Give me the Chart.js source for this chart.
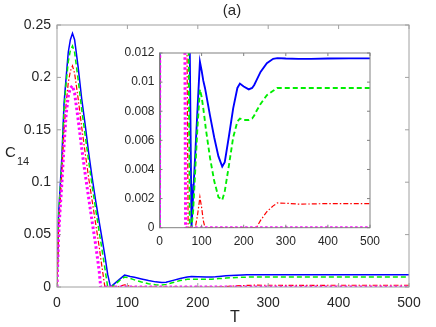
<!DOCTYPE html>
<html>
<head>
<meta charset="utf-8">
<script src="https://cdn.jsdelivr.net/npm/chart.js@4.4.1/dist/chart.umd.min.js"></script>
<style>
  body { margin: 0; background: #fff; }
  #wrap { position: relative; width: 436px; height: 327px; }
  #main { position: absolute; left: 0; top: 0; }
  #inset { position: absolute; left: 110px; top: 45px; }
</style>
</head>
<body>
<div id="wrap">
  <canvas id="main" width="436" height="327"></canvas>
  <canvas id="inset" width="280" height="210"></canvas>
</div>
<script>
// time axis (T) samples
const T = [0, 2, 4, 7, 10, 13, 16, 19, 22, 25, 30, 35, 40, 45, 50, 55, 60, 62, 65, 68, 70, 72, 75, 76,
  80, 85, 90, 96, 100, 104, 108, 110, 120, 130, 140, 149, 155, 165, 175, 185, 191, 200, 212, 220, 225,
  230, 240, 255, 270, 280, 300, 330, 360, 400, 450, 500];

// C14 for each curve
const blue = [0, 0.066, 0.09, 0.125, 0.175, 0.2, 0.224, 0.236, 0.242, 0.236, 0.21, 0.18, 0.155, 0.128, 0.104, 0.082, 0.062, 0.054, 0.042, 0.03, 0.021, 0.012, 0.003, 0,
  0.0023, 0.0051, 0.008, 0.0114, 0.0108, 0.0101, 0.0096, 0.0093, 0.0077, 0.0062, 0.0049, 0.0042, 0.0045, 0.0063, 0.0082, 0.0096, 0.0099, 0.0097, 0.0095, 0.0096, 0.0098,
  0.0101, 0.0107, 0.0113, 0.0116, 0.01165, 0.01162, 0.0116, 0.0116, 0.01162, 0.01163, 0.01163];
const green = [0, 0.06, 0.088, 0.12, 0.17, 0.195, 0.215, 0.226, 0.23, 0.224, 0.198, 0.17, 0.145, 0.12, 0.096, 0.074, 0.052, 0.044, 0.031, 0.018, 0.009, 0, 0, 0,
  0.0012, 0.004, 0.0068, 0.0095, 0.009, 0.0082, 0.0073, 0.0068, 0.0048, 0.0032, 0.0021, 0.0019, 0.0025, 0.0043, 0.0062, 0.0073, 0.0075, 0.0074, 0.0074, 0.0075, 0.0077,
  0.008, 0.0085, 0.0091, 0.0094, 0.0096, 0.0096, 0.0096, 0.0096, 0.0096, 0.0096, 0.0096];
const red = [0, 0.05, 0.075, 0.11, 0.15, 0.175, 0.195, 0.206, 0.211, 0.204, 0.18, 0.153, 0.128, 0.104, 0.082, 0.06, 0.038, 0.028, 0.014, 0, 0, 0, 0, 0,
  0, 0, 0.0008, 0.0021, 0.0014, 0.0005, 0, 0, 0, 0, 0, 0, 0, 0, 0, 0, 0, 0, 0, 0, 0,
  0, 0.0005, 0.0011, 0.0015, 0.0017, 0.00168, 0.00162, 0.00163, 0.00166, 0.00166, 0.00166];
const magenta = [0, 0.045, 0.07, 0.1, 0.135, 0.165, 0.182, 0.19, 0.192, 0.185, 0.16, 0.133, 0.108, 0.085, 0.062, 0.04, 0.015, 0, 0, 0, 0, 0, 0, 0,
  0, 0, 0, 0, 0, 0, 0, 0, 0, 0, 0, 0, 0, 0, 0, 0, 0, 0, 0, 0, 0,
  0, 0, 0, 0, 0, 0, 0, 0, 0, 0, 0];

const xTicks = [0, 100, 200, 300, 400, 500];
const mainYTicks = [0, 0.05, 0.1, 0.15, 0.2, 0.25];
const insetYTicks = [0, 0.002, 0.004, 0.006, 0.008, 0.01, 0.012];

const FONT = "'Liberation Sans', Arial, sans-serif";
const FRAME = '#a0a0a0';
const TEXT = '#262626';

function pts(vals) {
  return T.map((t, i) => ({ x: t, y: vals[i] }));
}

function makeDatasets(scale) {
  return [
    { data: pts(blue), borderColor: '#0000ff', borderWidth: 1.5 * scale, order: 4 },
    { data: pts(green), borderColor: '#00ee00', borderWidth: 1.5 * scale, borderDash: [5, 3], order: 3 },
    { data: pts(red), borderColor: '#ff0000', borderWidth: 1.2, borderDash: [5, 2, 1.5, 2], order: 2 },
    { data: pts(magenta), borderColor: '#ff00ff', borderWidth: 3, borderDash: [2.5, 2.5], order: 1 }
  ];
}

// box around plot area, ticks pointing inward on all four sides
const frameTicks = {
  id: 'frameTicks',
  afterDatasetsDraw(chart, args, opts) {
    const { ctx, chartArea: a, scales } = chart;
    ctx.save();
    ctx.strokeStyle = opts.color;
    ctx.lineWidth = 1;
    ctx.strokeRect(a.left, a.top, a.right - a.left, a.bottom - a.top);
    ctx.beginPath();
    scales.x.ticks.forEach(t => {
      const x = scales.x.getPixelForValue(t.value);
      ctx.moveTo(x, a.bottom); ctx.lineTo(x, a.bottom - opts.len);
      ctx.moveTo(x, a.top); ctx.lineTo(x, a.top + opts.len);
    });
    scales.y.ticks.forEach(t => {
      const y = scales.y.getPixelForValue(t.value);
      ctx.moveTo(a.left, y); ctx.lineTo(a.left + opts.len, y);
      ctx.moveTo(a.right, y); ctx.lineTo(a.right - opts.len, y);
    });
    ctx.stroke();
    ctx.restore();
  }
};

// title, x label and C_14 with subscript
const labels = {
  id: 'labels',
  afterDraw(chart) {
    const ctx = chart.ctx;
    ctx.save();
    ctx.fillStyle = TEXT;
    ctx.textAlign = 'center';
    ctx.textBaseline = 'middle';
    ctx.font = `15px ${FONT}`;
    ctx.fillText('(a)', 232, 11);
    ctx.font = `16px ${FONT}`;
    ctx.fillText('T', 235, 318);
    ctx.textAlign = 'left';
    ctx.font = `15px ${FONT}`;
    ctx.fillText('C', 5, 153);
    ctx.font = `11px ${FONT}`;
    ctx.fillText('14', 17, 162);
    ctx.restore();
  }
};

function axisOpts(ticks, fontSize, pad, size, fmt) {
  return {
    type: 'linear',
    min: ticks[0],
    max: ticks[ticks.length - 1],
    afterBuildTicks: s => { s.ticks = ticks.map(v => ({ value: v })); },
    afterFit: s => {
      if (s.isHorizontal()) s.height = size; else s.width = size;
      s.paddingLeft = s.paddingRight = s.paddingTop = s.paddingBottom = 0;
    },
    grid: { display: false, drawTicks: false },
    border: { display: false },
    ticks: {
      color: TEXT,
      padding: pad,
      maxRotation: 0,
      autoSkip: false,
      font: { family: FONT, size: fontSize },
      callback: fmt
    }
  };
}

const fmtNum = v => String(+v.toFixed(4));

new Chart(document.getElementById('main'), {
  type: 'line',
  data: { datasets: makeDatasets(1) },
  options: {
    responsive: false,
    animation: false,
    layout: { padding: { left: 0, right: 27, top: 25, bottom: 0 } },
    elements: { point: { radius: 0 }, line: { tension: 0 } },
    plugins: { legend: { display: false }, tooltip: { enabled: false }, frameTicks: { color: FRAME, len: 4 } },
    scales: {
      x: axisOpts(xTicks, 14, 8, 40, fmtNum),
      y: axisOpts(mainYTicks, 14, 6, 57, fmtNum)
    }
  },
  plugins: [frameTicks, labels]
});

new Chart(document.getElementById('inset'), {
  type: 'line',
  data: { datasets: makeDatasets(1.25) },
  options: {
    responsive: false,
    animation: false,
    layout: { padding: { left: 0, right: 20, top: 8, bottom: 0 } },
    elements: { point: { radius: 0 }, line: { tension: 0 } },
    plugins: { legend: { display: false }, tooltip: { enabled: false }, frameTicks: { color: '#808080', len: 3 } },
    scales: {
      x: axisOpts(xTicks, 12, 7, 27.3, fmtNum),
      y: axisOpts(insetYTicks, 12, 5, 49.5, fmtNum)
    }
  },
  plugins: [frameTicks]
});
</script>
</body>
</html>
